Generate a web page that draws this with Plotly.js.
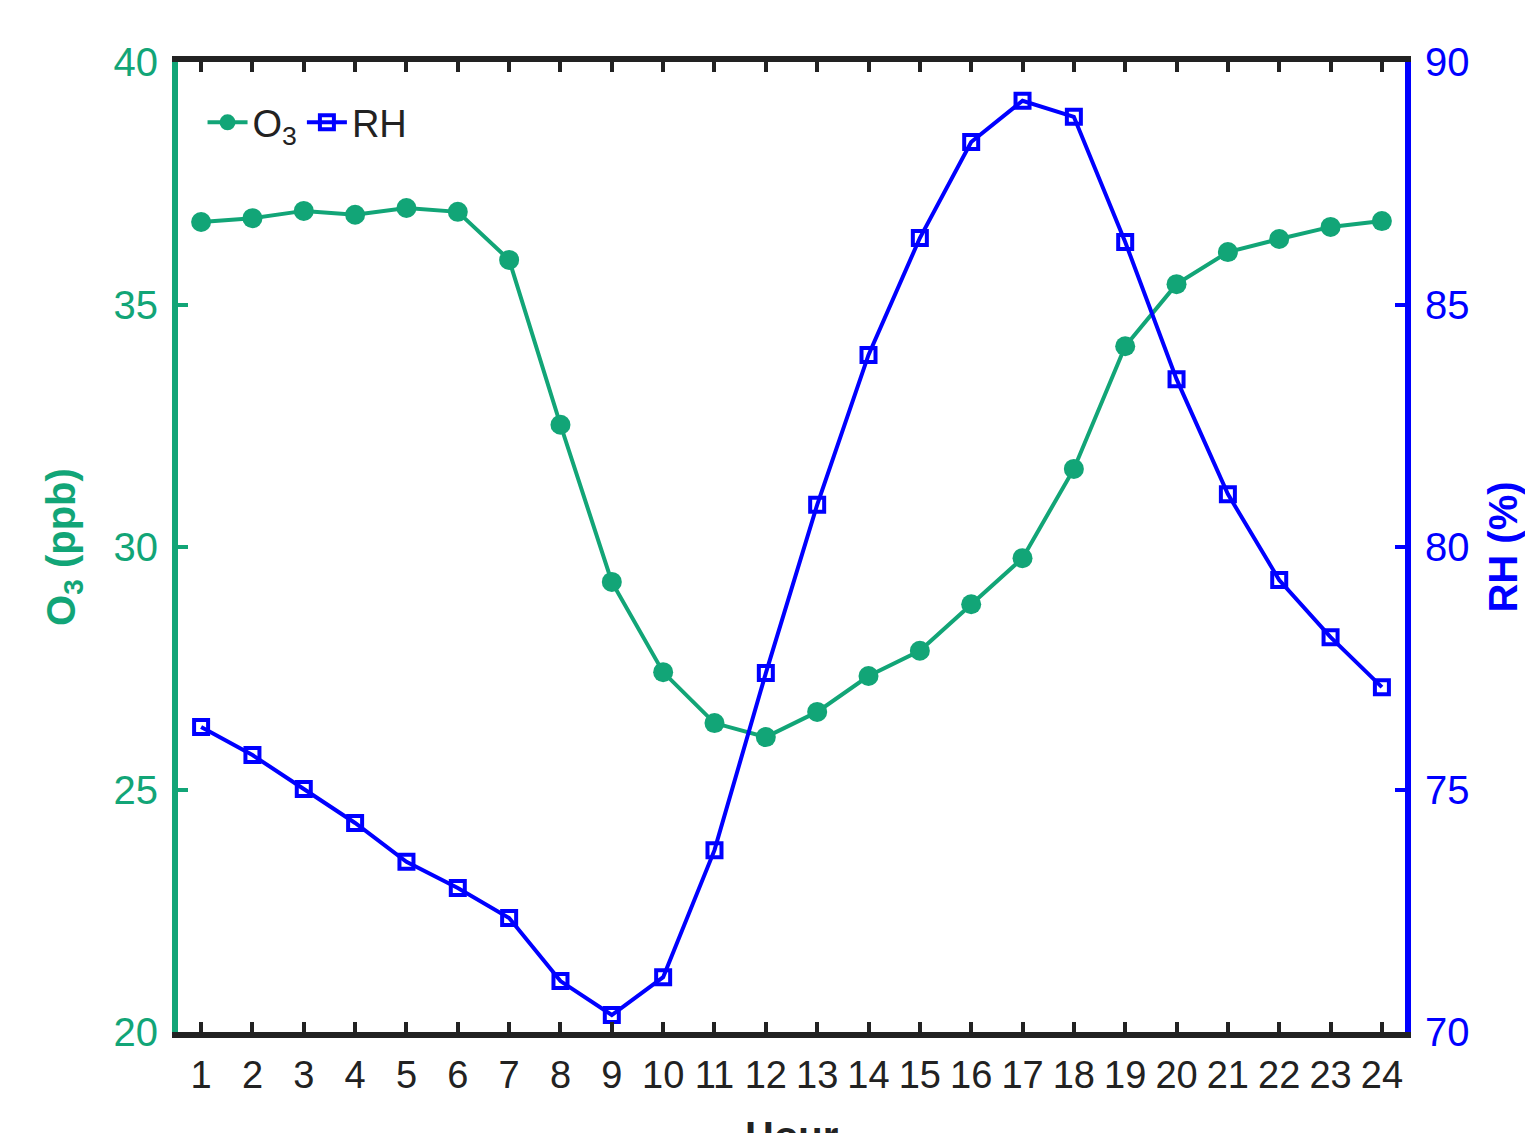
<!DOCTYPE html>
<html>
<head>
<meta charset="utf-8">
<script src="https://cdn.plot.ly/plotly-3.0.1.min.js"></script>
<style>html,body{margin:0;padding:0;background:#fff;}#chart{width:1525px;height:1133px;}</style>
</head>
<body>
<div id="chart"></div>
<script>
const hours = [1,2,3,4,5,6,7,8,9,10,11,12,13,14,15,16,17,18,19,20,21,22,23,24];
const o3 = [36.70,36.78,36.93,36.85,36.99,36.91,35.92,32.52,29.28,27.42,26.37,26.08,26.60,27.34,27.86,28.82,29.77,31.61,34.14,35.42,36.08,36.35,36.60,36.72];
const rh = [76.29,75.71,75.01,74.31,73.51,72.97,72.35,71.05,70.35,71.13,73.75,77.40,80.87,83.96,86.37,88.35,89.20,88.87,86.29,83.46,81.09,79.32,78.14,77.11];
const xTickLabels = hours.map(String);

const green = '#12a577';
const blue = '#0000ff';
const font = 'Liberation Sans, Arial, sans-serif';

const traces = [
  {x: hours, y: o3, name: 'O<sub>3</sub>', type: 'scatter', mode: 'lines+markers',
   line: {color: green, width: 4}, marker: {symbol: 'circle', size: 20, color: green}},
  {x: hours, y: rh, name: 'RH', type: 'scatter', mode: 'lines+markers', yaxis: 'y2',
   line: {color: blue, width: 4}, marker: {symbol: 'square-open', size: 14, color: blue, line: {width: 4, color: blue}}}
];

const layout = {
  width: 1525, height: 1133,
  margin: {l: 178, r: 120, t: 62, b: 101, pad: 0},
  paper_bgcolor: '#fff', plot_bgcolor: '#fff',
  font: {family: font, size: 38, color: '#222'},
  showlegend: true,
  legend: {x: 0.02, y: 0.97, xanchor: 'left', yanchor: 'top', orientation: 'h',
           font: {size: 38, color: '#222'}, bgcolor: 'rgba(0,0,0,0)', itemwidth: 40, tracegroupgap: 0},
  xaxis: {range: [0.55, 24.45], tickvals: hours, ticktext: xTickLabels,
          showgrid: false, zeroline: false, showline: true, linecolor: '#222', linewidth: 6,
          mirror: 'ticks', ticks: 'inside', ticklen: 10, tickwidth: 4, tickcolor: '#222',
          tickfont: {size: 38, color: '#222'}, ticklabelstandoff: 4},
  yaxis: {range: [20, 40], dtick: 5, tick0: 20, showgrid: false, zeroline: false,
          showline: true, linecolor: green, linewidth: 6,
          ticks: 'inside', ticklen: 10, tickwidth: 4, tickcolor: green,
          tickfont: {size: 40, color: green}, ticklabelstandoff: 6,
          title: {text: '<b>O<sub>3</sub> (ppb)</b>', font: {size: 40, color: green}, standoff: 28}},
  yaxis2: {range: [70, 90], dtick: 5, tick0: 70, overlaying: 'y', side: 'right',
           showgrid: false, zeroline: false, showline: true, linecolor: blue, linewidth: 6,
           ticks: 'inside', ticklen: 10, tickwidth: 4, tickcolor: blue,
           tickfont: {size: 40, color: blue}, ticklabelstandoff: 6,
           title: {text: '<b>RH (%)</b>', font: {size: 40, color: blue}, standoff: 34}},
  annotations: [
    {text: '<b>Hour</b>', xref: 'paper', yref: 'paper', x: 0.5, y: 0, yshift: -80,
     xanchor: 'center', yanchor: 'top', showarrow: false, font: {size: 40, color: '#222'}}
  ]
};

Plotly.newPlot('chart', traces, layout, {displayModeBar: false, responsive: false});
</script>
</body>
</html>
